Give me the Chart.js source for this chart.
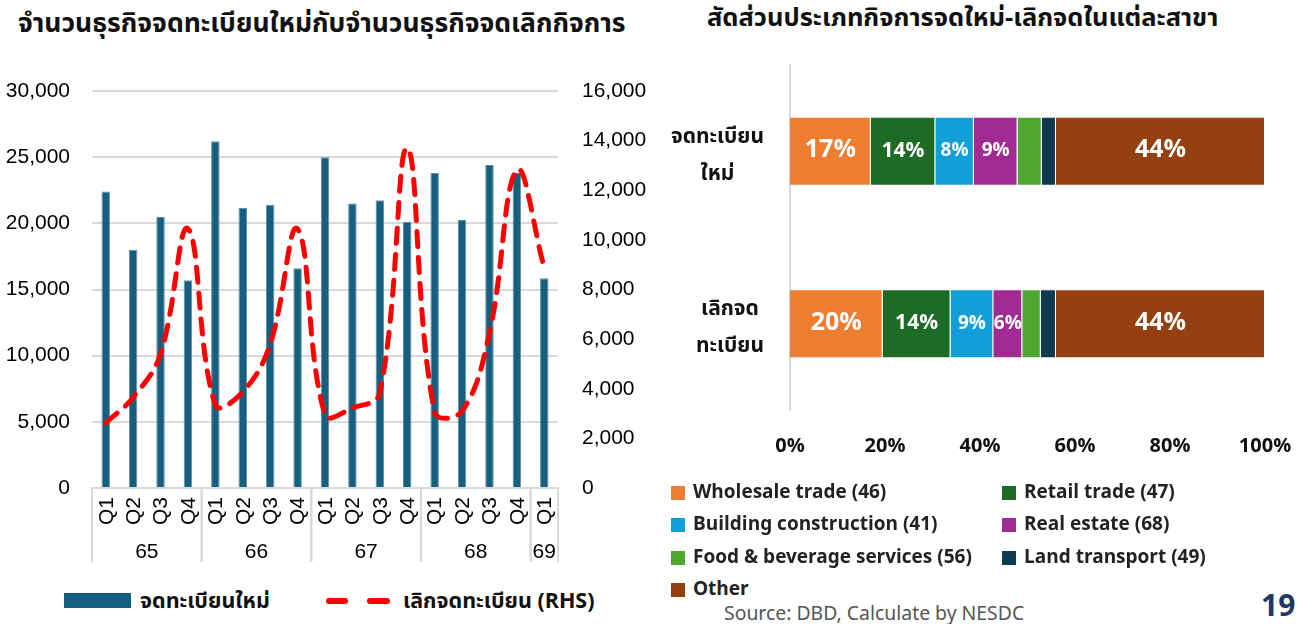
<!DOCTYPE html>
<html><head><meta charset="utf-8">
<script src="https://cdn.jsdelivr.net/npm/chart.js@4.4.1/dist/chart.umd.min.js"></script>
<style>
html,body{margin:0;padding:0;background:#fff;width:1307px;height:624px;overflow:hidden;position:relative;font-family:"Noto Sans Thai","Noto Sans","DejaVu Sans",sans-serif;color:#111;}
.abs{position:absolute;white-space:nowrap;line-height:1;}
#c1wrap{position:absolute;left:0;top:0;width:660px;height:570px;}
#c2wrap{position:absolute;left:660px;top:0;width:647px;height:480px;}
.sq{position:absolute;width:14px;height:14px;}
.lg{position:absolute;font-size:19px;font-weight:bold;color:#222;line-height:1;white-space:nowrap;}
</style></head>
<body>
<div class="abs" style="left:18px;top:11px;font-weight:bold;font-size:26.5px;">จำนวนธุรกิจจดทะเบียนใหม่กับจำนวนธุรกิจจดเลิกกิจการ</div>
<div class="abs" style="left:707px;top:6px;font-weight:bold;font-size:25.5px;">สัดส่วนประเภทกิจการจดใหม่-เลิกจดในแต่ละสาขา</div>
<div id="c1wrap"><canvas id="c1"></canvas></div>
<div id="c2wrap"><canvas id="c2"></canvas></div>

<div style="position:absolute;left:64px;top:593px;width:67px;height:15px;background:#175F80;"></div>
<div class="abs" style="left:140px;top:591px;font-size:21.5px;font-weight:bold;">จดทะเบียนใหม่</div>
<div style="position:absolute;left:326px;top:598px;width:22px;height:6px;border-radius:3px;background:#FF0000;"></div>
<div style="position:absolute;left:367px;top:598px;width:23px;height:6px;border-radius:3px;background:#FF0000;"></div>
<div class="abs" style="left:403px;top:591px;font-size:21.5px;font-weight:bold;">เลิกจดทะเบียน (RHS)</div>

<div id="leg2"></div>
<div class="abs" style="left:724px;top:605px;font-size:19.4px;color:#555;">Source: DBD, Calculate by NESDC</div>
<div class="abs" style="left:1261px;top:592px;font-size:30px;font-weight:bold;color:#1F3864;">19</div>

<script>
// ---------- Left chart data ----------
const quarters = ['Q1','Q2','Q3','Q4','Q1','Q2','Q3','Q4','Q1','Q2','Q3','Q4','Q1','Q2','Q3','Q4','Q1'];
const years    = ['65','65','65','65','66','66','66','66','67','67','67','67','68','68','68','68','69'];
const newRegistrations = [22400,18000,20500,15700,26200,21150,21400,16600,25000,21500,21750,20100,23800,20250,24400,23800,15850];
const closures         = [2620,3650,5400,10450,3350,3870,5800,10440,2950,3220,3830,13700,3060,3100,6250,12820,8870];
const leftTicks  = {min:0, max:30000, step:5000};
const rightTicks = {min:0, max:16000, step:2000};
const seriesNames = ['จดทะเบียนใหม่','เลิกจดทะเบียน (RHS)'];

// ---------- Right chart data ----------
const statusLabels = [['จดทะเบียน','ใหม่'],['เลิกจด','ทะเบียน']];
const sectorNames = ['Wholesale trade (46)','Retail trade (47)','Building construction (41)','Real estate (68)','Food & beverage services (56)','Land transport (49)','Other'];
const wholesale   = [17.0, 19.5];
const retail      = [13.6, 14.3];
const building    = [8.1, 9.0];
const realEstate  = [9.2, 6.1];
const foodBev     = [5.1, 3.9];
const landTrans   = [3.0, 3.2];
const other       = [44.0, 44.0];
const pctTicks = {min:0, max:100, step:20};

const sectorColors = ['#ED7D31','#1D6B24','#129FD8','#A02B93','#4EA72E','#0E3A52','#954010'];
const sectorLabelSizes = [25,21,19,19,0,0,25];

const AX_FONT = '"Liberation Sans", Arial, sans-serif';

const xLabelsPlugin = {
  id:'xlabels',
  afterDraw(chart){
    const ctx=chart.ctx, xs=chart.scales.x, area=chart.chartArea;
    const step = xs.getPixelForValue(1)-xs.getPixelForValue(0);
    ctx.save();
    ctx.fillStyle='#000';
    ctx.font='21px '+AX_FONT;
    quarters.forEach((q,i)=>{
      const x=xs.getPixelForValue(i);
      ctx.save(); ctx.translate(x, area.bottom+9); ctx.rotate(-Math.PI/2);
      ctx.textAlign='right'; ctx.textBaseline='middle'; ctx.fillText(q,0,1); ctx.restore();
    });
    const groups=[]; let s=0;
    for(let i=1;i<=years.length;i++){ if(i===years.length||years[i]!==years[s]){groups.push([s,i-1]); s=i;} }
    ctx.strokeStyle='#D9D9D9'; ctx.lineWidth=2;
    groups.forEach(([a,b])=>{
      const x0=xs.getPixelForValue(a)-step/2, x1=xs.getPixelForValue(b)+step/2;
      ctx.textAlign='center'; ctx.textBaseline='middle';
      ctx.fillText(years[a],(x0+x1)/2, area.bottom+64);
      ctx.beginPath(); ctx.moveTo(x0,area.bottom); ctx.lineTo(x0,area.bottom+74);
      ctx.moveTo(x1,area.bottom); ctx.lineTo(x1,area.bottom+74); ctx.stroke();
    });
    ctx.restore();
  }
};

new Chart(document.getElementById('c1'),{
  data:{
    labels: quarters.map((q,i)=>q+' '+years[i]),
    datasets:[
      {type:'line', label:seriesNames[1], data:closures, yAxisID:'y1', borderColor:'#FF0000', borderWidth:5,
       borderDash:[15,11], borderCapStyle:'round', tension:0.4, pointRadius:0, fill:false, order:0},
      {type:'bar', label:seriesNames[0], data:newRegistrations, yAxisID:'y', backgroundColor:'#175F80',
       borderColor:'#5E8FA8', borderWidth:{left:1,right:1,top:1,bottom:0}, barPercentage:0.31, categoryPercentage:1, order:1}
    ]
  },
  plugins:[xLabelsPlugin],
  options:{
    responsive:true, maintainAspectRatio:false, animation:false,
    layout:{padding:{top:91,left:0,right:0,bottom:0}},
    plugins:{legend:{display:false}, tooltip:{enabled:false}},
    scales:{
      x:{ticks:{display:false}, grid:{display:false, drawTicks:false}, border:{display:true,color:'#D9D9D9',width:2},
         afterFit(s){s.height=82;}},
      y:{position:'left', min:leftTicks.min, max:leftTicks.max,
         ticks:{stepSize:leftTicks.step, padding:22, color:'#000', font:{family:AX_FONT,size:21},
                callback:v=>v.toLocaleString('en-US')},
         grid:{color:'#D9D9D9', lineWidth:2, drawTicks:false}, border:{display:false},
         afterFit(s){s.width=92;}},
      y1:{position:'right', min:rightTicks.min, max:rightTicks.max,
         ticks:{stepSize:rightTicks.step, padding:24, color:'#000', font:{family:AX_FONT,size:21},
                callback:v=>v.toLocaleString('en-US')},
         grid:{display:false, drawTicks:false}, border:{display:false},
         afterFit(s){s.width=102;}}
    }
  }
});

// ---------- Right chart ----------
const THAI_FONT = '"Noto Sans Thai","Noto Sans","DejaVu Sans",sans-serif';
const segLabelPlugin = {
  id:'seglabels',
  afterDatasetsDraw(chart){
    const ctx=chart.ctx;
    ctx.save();
    chart.data.datasets.forEach((ds,di)=>{
      const size=sectorLabelSizes[di];
      if(!size) return;
      const meta=chart.getDatasetMeta(di);
      meta.data.forEach((el,i)=>{
        const p=el.getProps(['x','y','base'],true);
        ctx.font='bold '+size+'px '+THAI_FONT;
        ctx.fillStyle='#fff'; ctx.textAlign='center'; ctx.textBaseline='middle';
        ctx.fillText(Math.round(ds.data[i])+'%',(p.x+p.base)/2,p.y+1);
      });
    });
    ctx.restore();
  },
  afterDraw(chart){
    const ctx=chart.ctx, ys=chart.scales.y;
    ctx.save();
    ctx.font='bold 21px '+THAI_FONT; ctx.fillStyle='#111'; ctx.textAlign='center'; ctx.textBaseline='middle';
    statusLabels.forEach((lines,i)=>{
      const y=ys.getPixelForValue(i);
      const w=Math.max(...lines.map(l=>ctx.measureText(l).width));
      const cx=764-660-w/2;
      lines.forEach((l,k)=>ctx.fillText(l,cx,y-13+k*37));
    });
    ctx.restore();
  }
};
const sectorData=[wholesale,retail,building,realEstate,foodBev,landTrans,other];
new Chart(document.getElementById('c2'),{
  type:'bar',
  data:{
    labels: statusLabels,
    datasets: sectorNames.map((n,i)=>({label:n, data:sectorData[i], backgroundColor:sectorColors[i],
      borderColor:'rgba(255,255,255,0.5)', borderWidth:1, barPercentage:0.4, categoryPercentage:1}))
  },
  plugins:[segLabelPlugin],
  options:{
    indexAxis:'y', responsive:true, maintainAspectRatio:false, animation:false,
    layout:{padding:{top:65,left:0,right:42,bottom:0}},
    plugins:{legend:{display:false}, tooltip:{enabled:false}},
    scales:{
      x:{stacked:true, min:pctTicks.min, max:pctTicks.max,
         ticks:{stepSize:pctTicks.step, padding:10, color:'#111', font:{family:THAI_FONT,size:20,weight:'bold',lineHeight:'56px'}, callback:v=>v+'%'},
         grid:{display:false, drawTicks:false}, border:{display:false},
         afterFit(s){s.height=70;}},
      y:{stacked:true, ticks:{display:false}, grid:{display:false, drawTicks:false},
         border:{display:true,color:'#D9D9D9',width:2}, afterFit(s){s.width=130;}}
    }
  }
});

// right legend (HTML)
const leg=document.getElementById('leg2');
const legPos=[[671,486],[1002,486],[671,518],[1002,518],[671,551],[1002,551],[671,583]];
sectorNames.forEach((n,i)=>{
  const [x,y]=legPos[i];
  const sq=document.createElement('div'); sq.className='sq';
  sq.style.left=x+'px'; sq.style.top=y+'px'; sq.style.background=sectorColors[i]; leg.appendChild(sq);
  const t=document.createElement('div'); t.className='lg'; t.textContent=n;
  t.style.left=(x+22)+'px'; t.style.top=(y-3)+'px'; leg.appendChild(t);
});
</script>
</body></html>
